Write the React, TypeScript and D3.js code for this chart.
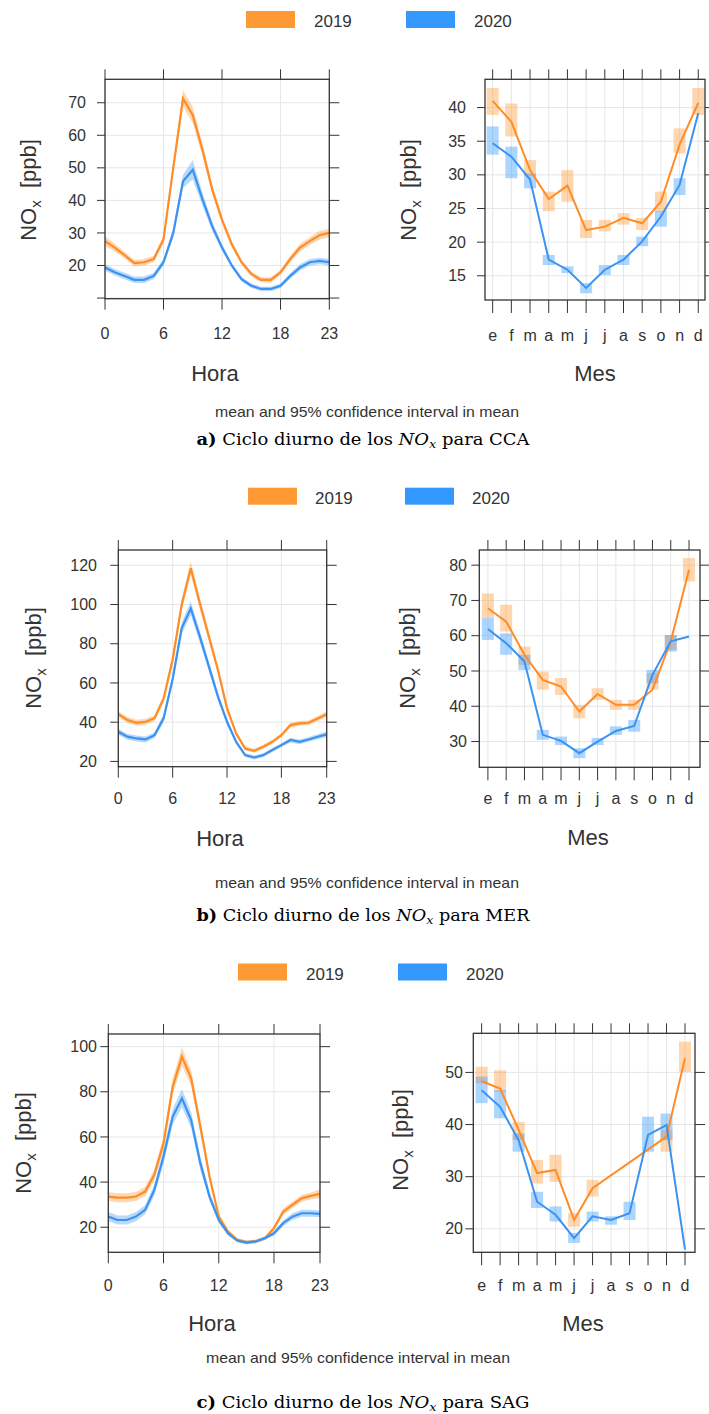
import React from "react";
import * as d3 from "d3";

// ---------- categories ----------
const hours = [0, 1, 2, 3, 4, 5, 6, 7, 8, 9, 10, 11, 12, 13, 14, 15, 16, 17, 18, 19, 20, 21, 22, 23];
const hourTicks = [0, 6, 12, 18, 23];
const months = ["e", "f", "m", "a", "m", "j", "j", "a", "s", "o", "n", "d"];
const years = ["2019", "2020"];

// ---------- CCA ----------
const ccaHour2019 = [27.5, 25.5, 23.2, 20.7, 21, 22, 28, 50, 71.3, 66.2, 55.5, 43.3, 34, 26.5, 21, 17.4, 15.6, 15.6, 17.9, 22, 25.5, 27.5, 29.3, 30];
const ccaHour2019Ci = [1.5, 1.2, 1, 1, 1, 1, 1.2, 1.5, 2.5, 2.5, 2, 1.5, 1.2, 1, 0.8, 0.8, 0.8, 0.8, 0.8, 1, 1.2, 1.2, 1.3, 1.3];
const ccaHour2020 = [19.4, 17.9, 16.8, 15.6, 15.6, 16.8, 21, 30, 45.9, 49.4, 40.3, 32, 25.5, 20, 15.8, 13.8, 12.8, 12.8, 13.8, 16.8, 19.4, 21, 21.4, 21];
const ccaHour2020Ci = [1, 1, 1, 1, 1, 1, 1, 1.5, 2, 3, 2, 1.5, 1, 0.8, 0.7, 0.7, 0.7, 0.7, 0.7, 0.8, 1, 1, 1, 1];
const ccaHourTicks = [10, 20, 30, 40, 50, 60, 70];
const ccaHourTickLabels = ["", "20", "30", "40", "50", "60", "70"];

const ccaMonth2019 = [41, 37.9, 30.7, 26.4, 28.4, 21.8, 22.3, 23.6, 22.8, 26, 34.5, 40.7];
const ccaMonth2019Lo = [38.9, 35.7, 29.8, 24.6, 26, 20.6, 21.6, 22.6, 21.8, 24.5, 33.2, 38.9];
const ccaMonth2019Hi = [42.9, 40.6, 32.2, 27.5, 30.7, 23.3, 23.3, 24.3, 23.6, 27.5, 36.9, 42.9];
const ccaMonth2020 = [34.7, 32.7, 29.3, 17.4, 15.9, 13.2, 15.9, 17.4, 20.1, 23.8, 28.5, 39.2];
const ccaMonth2020Lo = [33, 29.5, 28, 16.6, 15.4, 12.4, 15.1, 16.6, 19.4, 22.3, 27, null];
const ccaMonth2020Hi = [37.2, 34.2, 30.2, 18.1, 16.4, 13.9, 16.6, 18.1, 20.8, 24.6, 29.5, null];
const ccaMonthTicks = [15, 20, 25, 30, 35, 40];

// ---------- MER ----------
const merHour2019 = [44.1, 41.1, 39.7, 40.2, 42, 52, 72, 100, 118.5, 100.6, 83.6, 66.6, 47, 34.3, 26.6, 25.4, 27.5, 30, 33.4, 38.5, 39.4, 39.7, 41.9, 44.1];
const merHour2019Ci = [1.5, 1.5, 1.5, 1.5, 1.5, 2, 2.5, 3, 3.5, 3, 2.5, 2, 1.5, 1.2, 1, 1, 1, 1, 1, 1.2, 1.2, 1.2, 1.3, 1.5];
const merHour2020 = [35.1, 32.6, 31.7, 31.2, 33.4, 42, 62, 88, 98, 83.6, 68.3, 53, 40.2, 30, 23.2, 22, 23.2, 25.8, 28.3, 30.9, 30, 31.2, 32.6, 33.8];
const merHour2020Ci = [1.5, 1.5, 1.5, 1.5, 1.5, 2, 2.5, 3, 3.5, 3, 2.5, 2, 1.5, 1.2, 1, 1, 1, 1, 1, 1.2, 1.2, 1.2, 1.3, 1.5];
const merHourTicks = [20, 40, 60, 80, 100, 120];

const merMonth2019 = [67.8, 64, 54.6, 47.5, 45.6, 38.5, 43.5, 40.4, 40.4, 44.7, 58.4, 78.7];
const merMonth2019Lo = [65, 61.2, 51.7, 44.7, 43.2, 36.6, 41.8, 39, 39, 44.7, 56, 75.4];
const merMonth2019Hi = [72, 68.8, 56.9, 49.8, 48, 40.4, 45.1, 41.8, 41.8, 49.4, 60.2, 82];
const merMonth2020 = [61.9, 57.9, 52.7, 31.9, 30.2, 26.7, 30, 33, 34.4, 48.9, 58.4, 59.8];
const merMonth2020Lo = [58.8, 54.6, 50.3, 30.5, 29, 25.3, 29, 31.9, 32.8, 46.5, 55.5, null];
const merMonth2020Hi = [65, 60.7, 54.6, 33.3, 31.4, 28.1, 31, 34.3, 36.1, 50.3, 60.2, null];
const merMonthTicks = [30, 40, 50, 60, 70, 80];

// ---------- SAG ----------
const sagHour2019 = [33.6, 33.1, 33.1, 33.6, 35.8, 43.2, 57.2, 82.3, 95.6, 86, 64.6, 42.4, 24.7, 18.1, 14.4, 13.4, 13.7, 15.1, 19.6, 26.9, 29.9, 32.8, 33.9, 34.8];
const sagHour2019Ci = [2, 2, 2, 2, 2, 2.5, 3, 3.5, 4, 3.5, 3, 2, 1.2, 1, 0.8, 0.8, 0.8, 0.8, 1, 1.5, 1.5, 1.5, 1.5, 2];
const sagHour2020 = [24.7, 23.2, 23.2, 24.7, 27.7, 36.5, 51.3, 69, 77.1, 67.5, 48.3, 33.6, 23.2, 17.3, 14.1, 13.2, 13.7, 15.1, 17.3, 21.8, 24.7, 26.2, 26.2, 25.9];
const sagHour2020Ci = [2, 2, 2, 2, 2, 2.5, 3, 3.5, 4, 3.5, 3, 2, 1.2, 1, 0.8, 0.8, 0.8, 0.8, 1, 1.2, 1.5, 1.5, 1.5, 1.5];
const sagHourTicks = [20, 40, 60, 80, 100];

const sagMonth2019 = [48.3, 46.9, 39, 30.7, 31.3, 21.7, 27.8, null, null, null, 37.7, 52.7];
const sagMonth2019Lo = [47.9, 46.3, 37, 28.7, 29, 20.4, 26.2, null, null, null, 34.8, 50.1];
const sagMonth2019Hi = [51.1, 50.4, 40.5, 33.2, 34.2, 23, 29.4, null, null, null, 39, 55.9];
const sagMonth2020 = [46.6, 43.4, 37, 25.2, 22.7, 18.2, 22.4, 21.7, 23, 38, 39.9, 16];
const sagMonth2020Lo = [44.1, 41.2, 34.8, 24, 21.4, 17.3, 21.4, 20.8, 21.7, 34.8, 37, null];
const sagMonth2020Hi = [49.2, 46.6, 38.3, 27.1, 24.3, 19.2, 23.3, 22.4, 25.2, 41.5, 42.1, null];
const sagMonthTicks = [20, 30, 40, 50];

// ---------- styles ----------
const ORANGE = "#ff8c26";
const BLUE = "#3a93f3";
const KEY_ORANGE = "#ff9933";
const KEY_BLUE = "#3399ff";
const INK = "#333";
const GRID = "#e6e6e6";
const SANS = "'Liberation Sans', Arial, sans-serif";
const SERIF = "'DejaVu Serif', 'Liberation Serif', serif";

type Box = { x0: number; y0: number; x1: number; y1: number };
type Lab = { yLabRight: number; xLabY: number; titleX: number; titleY: number; nameX: number; nameY: number };

function YName({ x, y }: { x: number; y: number }) {
  return (
    <text transform={`translate(${x},${y}) rotate(-90)`} textAnchor="middle" dy="0.35em"
      fontFamily={SANS} fontSize={22} fill={INK}>
      NO<tspan fontSize={15} dy={5}>x</tspan><tspan dy={-5}>{"\u00a0\u00a0[ppb]"}</tspan>
    </text>
  );
}

function Frame({ b }: { b: Box }) {
  return <rect x={b.x0} y={b.y0} width={b.x1 - b.x0} height={b.y1 - b.y0} fill="none" stroke={INK} strokeWidth={1.3} />;
}

function HourPanel(props: {
  id: string; b: Box; lab: Lab; yDomain: [number, number]; yTicks: number[]; yTickLabels?: string[];
  s19: number[]; c19: number[]; s20: number[]; c20: number[];
}) {
  const { id, b, lab, yDomain, yTicks, yTickLabels, s19, c19, s20, c20 } = props;
  const x = d3.scaleLinear().domain([0, 23]).range([b.x0, b.x1]);
  const y = d3.scaleLinear().domain(yDomain).range([b.y1, b.y0]);
  const area = d3.area<number>().x((_, i) => x(hours[i]));
  const line = d3.line<number>().x((_, i) => x(hours[i])).y((v) => y(v));
  const band = (s: number[], c: number[]) =>
    area.y0((v, i) => y(v - c[i])).y1((v, i) => y(v + c[i]))(s) || "";
  return (
    <g>
      <defs>
        <clipPath id={id}><rect x={b.x0} y={b.y0} width={b.x1 - b.x0} height={b.y1 - b.y0} /></clipPath>
      </defs>
      {hourTicks.map((t) => <line key={"gx" + t} x1={x(t)} x2={x(t)} y1={b.y0} y2={b.y1} stroke={GRID} />)}
      {yTicks.map((t) => <line key={"gy" + t} x1={b.x0} x2={b.x1} y1={y(t)} y2={y(t)} stroke={GRID} />)}
      <g clipPath={`url(#${id})`}>
        <path d={band(s19, c19)} fill={ORANGE} fillOpacity={0.35} />
        <path d={band(s20, c20)} fill={BLUE} fillOpacity={0.35} />
        <path d={line(s19) || ""} fill="none" stroke={ORANGE} strokeWidth={2.2} />
        <path d={line(s20) || ""} fill="none" stroke={BLUE} strokeWidth={2.2} />
      </g>
      <Frame b={b} />
      {hourTicks.map((t) => (
        <g key={"tx" + t}>
          <line x1={x(t)} x2={x(t)} y1={b.y0} y2={b.y0 - 10} stroke={INK} />
          <line x1={x(t)} x2={x(t)} y1={b.y1} y2={b.y1 + 11} stroke={INK} />
          <text x={x(t)} y={lab.xLabY} dy="0.35em" textAnchor="middle" fontFamily={SANS} fontSize={16} fill={INK}>{t}</text>
        </g>
      ))}
      {yTicks.map((t, i) => (
        <g key={"ty" + t}>
          <line x1={b.x0 - 8} x2={b.x0} y1={y(t)} y2={y(t)} stroke={INK} />
          <line x1={b.x1} x2={b.x1 + 10} y1={y(t)} y2={y(t)} stroke={INK} />
          <text x={lab.yLabRight} y={y(t)} dy="0.35em" textAnchor="end" fontFamily={SANS} fontSize={16} fill={INK}>
            {yTickLabels ? yTickLabels[i] : t}
          </text>
        </g>
      ))}
      <text x={lab.titleX} y={lab.titleY} dy="0.35em" textAnchor="middle" fontFamily={SANS} fontSize={22} fill={INK}>Hora</text>
      <YName x={lab.nameX} y={lab.nameY} />
    </g>
  );
}

function MonthPanel(props: {
  id: string; b: Box; lab: Lab; xDomain: [number, number]; yDomain: [number, number]; yTicks: number[];
  m19: (number | null)[]; lo19: (number | null)[]; hi19: (number | null)[];
  m20: (number | null)[]; lo20: (number | null)[]; hi20: (number | null)[];
}) {
  const { id, b, lab, xDomain, yDomain, yTicks, m19, lo19, hi19, m20, lo20, hi20 } = props;
  const idx = months.map((_, i) => i);
  const x = d3.scaleLinear().domain(xDomain).range([b.x0, b.x1]);
  const y = d3.scaleLinear().domain(yDomain).range([b.y1, b.y0]);
  const bw = 12;
  const line = d3.line<[number, number]>().x((p) => x(p[0])).y((p) => y(p[1]));
  const pts = (m: (number | null)[]) =>
    m.map((v, i) => [i, v] as [number, number | null]).filter((p) => p[1] != null) as [number, number][];
  const boxes = (lo: (number | null)[], hi: (number | null)[], col: string, key: string) =>
    idx.filter((i) => lo[i] != null && hi[i] != null).map((i) => (
      <rect key={key + i} x={x(i) - bw / 2} y={y(hi[i] as number)} width={bw}
        height={y(lo[i] as number) - y(hi[i] as number)} fill={col} fillOpacity={0.4} />
    ));
  return (
    <g>
      <defs>
        <clipPath id={id}><rect x={b.x0} y={b.y0} width={b.x1 - b.x0} height={b.y1 - b.y0} /></clipPath>
      </defs>
      {idx.map((i) => <line key={"gx" + i} x1={x(i)} x2={x(i)} y1={b.y0} y2={b.y1} stroke={GRID} />)}
      {yTicks.map((t) => <line key={"gy" + t} x1={b.x0} x2={b.x1} y1={y(t)} y2={y(t)} stroke={GRID} />)}
      <g clipPath={`url(#${id})`}>
        {boxes(lo19, hi19, KEY_ORANGE, "o")}
        {boxes(lo20, hi20, KEY_BLUE, "b")}
        <path d={line(pts(m19)) || ""} fill="none" stroke={ORANGE} strokeWidth={2} />
        <path d={line(pts(m20)) || ""} fill="none" stroke={BLUE} strokeWidth={2} />
      </g>
      <Frame b={b} />
      {idx.map((i) => (
        <g key={"tx" + i}>
          <line x1={x(i)} x2={x(i)} y1={b.y0} y2={b.y0 - 10} stroke={INK} />
          <line x1={x(i)} x2={x(i)} y1={b.y1} y2={b.y1 + 13} stroke={INK} />
          <text x={x(i)} y={lab.xLabY} dy="0.35em" textAnchor="middle" fontFamily={SANS} fontSize={16} fill={INK}>{months[i]}</text>
        </g>
      ))}
      {yTicks.map((t) => (
        <g key={"ty" + t}>
          <line x1={b.x0 - 8} x2={b.x0} y1={y(t)} y2={y(t)} stroke={INK} />
          <line x1={b.x1} x2={b.x1 + 10} y1={y(t)} y2={y(t)} stroke={INK} />
          <text x={lab.yLabRight} y={y(t)} dy="0.35em" textAnchor="end" fontFamily={SANS} fontSize={16} fill={INK}>{t}</text>
        </g>
      ))}
      <text x={lab.titleX} y={lab.titleY} dy="0.35em" textAnchor="middle" fontFamily={SANS} fontSize={22} fill={INK}>Mes</text>
      <YName x={lab.nameX} y={lab.nameY} />
    </g>
  );
}

function Key({ y, xo, xb, to, tb }: { y: number; xo: number; xb: number; to: number; tb: number }) {
  return (
    <g fontFamily={SANS} fontSize={17} fill={INK}>
      <rect x={xo} y={y} width={49} height={17} fill={KEY_ORANGE} />
      <text x={to} y={y + 16}>{years[0]}</text>
      <rect x={xb} y={y} width={49} height={17} fill={KEY_BLUE} />
      <text x={tb} y={y + 16}>{years[1]}</text>
    </g>
  );
}

function Caption({ y1, x1, y2, letter, site }: { y1: number; x1: number; y2: number; letter: string; site: string }) {
  return (
    <g>
      <text x={x1} y={y1} dy="0.35em" textAnchor="middle" fontFamily={SANS} fontSize={15} fill={INK}
        textLength={304} lengthAdjust="spacingAndGlyphs">mean and 95% confidence interval in mean</text>
      <text x={363} y={y2} dy="0.3em" textAnchor="middle" fontFamily={SERIF} fontSize={16} fill="#000"
        textLength={333} lengthAdjust="spacingAndGlyphs">
        <tspan fontWeight="bold">{letter + ")"}</tspan>
        <tspan>{" Ciclo diurno de los "}</tspan>
        <tspan fontStyle="italic">NO</tspan>
        <tspan fontStyle="italic" fontSize={11.5} dy={3}>x</tspan>
        <tspan dy={-3}>{" para " + site}</tspan>
      </text>
    </g>
  );
}

export default function App() {
  return (
    <svg width={709} height={1414} style={{ position: "absolute", left: 0, top: 0, background: "#fff" }}>
      <rect width={709} height={1414} fill="#fff" />

      {/* a) CCA */}
      <Key y={11} xo={246} xb={406} to={314} tb={474} />
      <HourPanel id="ca" b={{ x0: 105, y0: 79.3, x1: 329.3, y1: 298.7 }}
        lab={{ yLabRight: 86, xLabY: 333, titleX: 215, titleY: 373, nameX: 28, nameY: 190 }}
        yDomain={[9.8, 77.2]} yTicks={ccaHourTicks} yTickLabels={ccaHourTickLabels}
        s19={ccaHour2019} c19={ccaHour2019Ci} s20={ccaHour2020} c20={ccaHour2020Ci} />
      <MonthPanel id="cb" b={{ x0: 485, y0: 79.3, x1: 705, y1: 300 }}
        lab={{ yLabRight: 466, xLabY: 335, titleX: 595, titleY: 373, nameX: 408, nameY: 190 }}
        xDomain={[-0.41, 11.36]} yDomain={[11.4, 44.2]} yTicks={ccaMonthTicks}
        m19={ccaMonth2019} lo19={ccaMonth2019Lo} hi19={ccaMonth2019Hi}
        m20={ccaMonth2020} lo20={ccaMonth2020Lo} hi20={ccaMonth2020Hi} />
      <Caption x1={367} y1={411.5} y2={440} letter="a" site="CCA" />

      {/* b) MER */}
      <Key y={487.7} xo={248} xb={405} to={315} tb={472} />
      <HourPanel id="ma" b={{ x0: 118.3, y0: 550, x1: 326.7, y1: 766.7 }}
        lab={{ yLabRight: 97, xLabY: 798, titleX: 220, titleY: 838, nameX: 33, nameY: 658 }}
        yDomain={[17.3, 127.8]} yTicks={merHourTicks}
        s19={merHour2019} c19={merHour2019Ci} s20={merHour2020} c20={merHour2020Ci} />
      <MonthPanel id="mb" b={{ x0: 479.3, y0: 550, x1: 700, y1: 767.3 }}
        lab={{ yLabRight: 467, xLabY: 798, titleX: 588, titleY: 837, nameX: 407, nameY: 658 }}
        xDomain={[-0.47, 11.6]} yDomain={[22.7, 84.3]} yTicks={merMonthTicks}
        m19={merMonth2019} lo19={merMonth2019Lo} hi19={merMonth2019Hi}
        m20={merMonth2020} lo20={merMonth2020Lo} hi20={merMonth2020Hi} />
      <Caption x1={367} y1={882.5} y2={916.5} letter="b" site="MER" />

      {/* c) SAG */}
      <Key y={963.5} xo={238} xb={398} to={306} tb={466} />
      <HourPanel id="sa" b={{ x0: 108.3, y0: 1034, x1: 320, y1: 1252.3 }}
        lab={{ yLabRight: 97, xLabY: 1285, titleX: 212, titleY: 1323, nameX: 23, nameY: 1143 }}
        yDomain={[8.9, 105.6]} yTicks={sagHourTicks}
        s19={sagHour2019} c19={sagHour2019Ci} s20={sagHour2020} c20={sagHour2020Ci} />
      <MonthPanel id="sb" b={{ x0: 473.3, y0: 1033.3, x1: 695, y1: 1252.3 }}
        lab={{ yLabRight: 463, xLabY: 1285, titleX: 583, titleY: 1323, nameX: 400, nameY: 1140 }}
        xDomain={[-0.45, 11.54]} yDomain={[15.5, 57.5]} yTicks={sagMonthTicks}
        m19={sagMonth2019} lo19={sagMonth2019Lo} hi19={sagMonth2019Hi}
        m20={sagMonth2020} lo20={sagMonth2020Lo} hi20={sagMonth2020Hi} />
      <Caption x1={358} y1={1358} y2={1403} letter="c" site="SAG" />
    </svg>
  );
}
